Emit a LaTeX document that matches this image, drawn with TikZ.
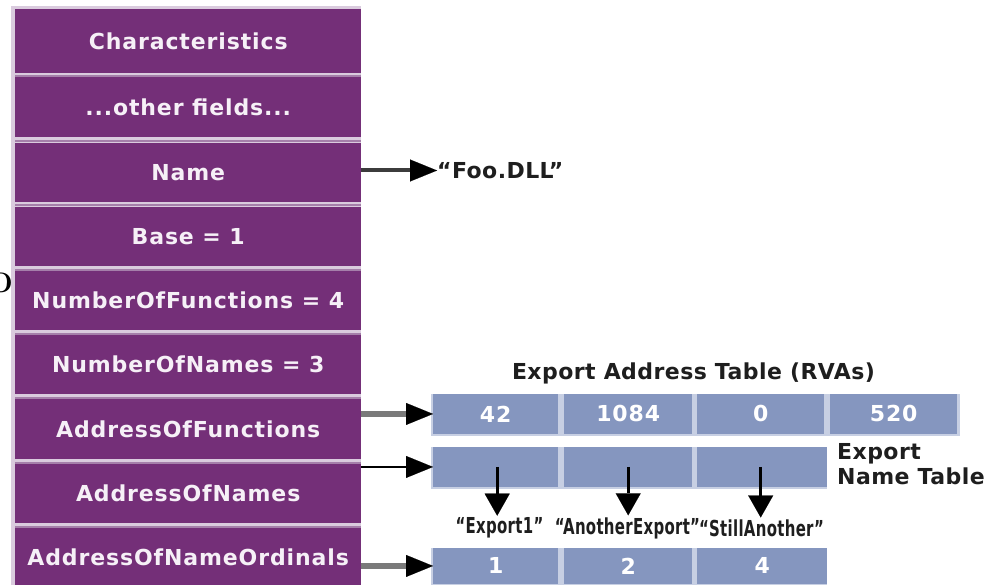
\documentclass[tikz,border=0pt]{standalone}
\usepackage{fontspec}
\usetikzlibrary{arrows.meta}
\newfontfamily\labelsans{DejaVu Sans}[LetterSpace=4]
\newfontfamily\captionsans{DejaVu Sans}[LetterSpace=2]

\definecolor{hdrpurple}{HTML}{742F78}
\definecolor{hdrpale}{HTML}{DACBDE}
\definecolor{hdrmid}{HTML}{A57FAA}
\definecolor{cellblue}{HTML}{8596BF}
\definecolor{cellpale}{HTML}{C7CFE3}
\definecolor{wiregray}{HTML}{7A7A7A}
\definecolor{wiredark}{HTML}{3C3C3C}
\definecolor{inkwhite}{HTML}{F6F0F7}
\definecolor{inkdark}{HTML}{1E1E1E}

\tikzset{
  fieldbox/.style={fill=hdrpurple, draw=none, anchor=north west, inner sep=0pt,
    minimum width=346pt, text=inkwhite,
    font=\labelsans\bfseries\fontsize{22}{26}\selectfont},
  cellbox/.style={fill=cellblue, draw=none, anchor=north west, inner sep=0pt,
    text=white, font=\labelsans\bfseries\fontsize{22}{26}\selectfont},
  caption/.style={inner sep=0pt, text=inkdark,
    font=\captionsans\bfseries\fontsize{22}{25}\selectfont},
  strlabel/.style={inner sep=0pt, outer sep=2pt, text=inkdark,
    font=\captionsans\bfseries\fontsize{22}{24}\selectfont},
  rightarrow/.style={-{Triangle[length=27pt,width=22pt,black,line width=0.1pt]}},
  thickwire/.style={rightarrow, draw=wiregray, line width=6pt},
  thinwire/.style={rightarrow, draw=black, line width=2.5pt},
  namewire/.style={rightarrow, draw=wiredark, line width=4pt},
  downarrow/.style={-{Triangle[length=22pt,width=25pt,black,line width=0.1pt]},
    draw=black, line width=3pt},
}

\begin{document}
\begin{tikzpicture}[x=1pt, y=-1pt]
\useasboundingbox (0,0) rectangle (990,585);

% glyph cut by the left page edge
\begin{scope}
  \clip (0,0) rectangle (990,585);
  \node[anchor=east, inner sep=0pt, font=\fontsize{28}{28}\selectfont\bfseries] (edgeglyph) at (13,283) {O};
\end{scope}

% export directory: pale backing and field rows
\fill[hdrpale] (11,6) rectangle (361,585);
\foreach \t in {77,142.5,206.5,271,335,399,463.5,528}
  \fill[hdrmid] (15,\t-2) rectangle (361,\t);

\node[fieldbox, minimum height=63.5pt] (r1) at (15,9)     {Characteristics};
\node[fieldbox, minimum height=60pt]   (r2) at (15,77)    {...other fields...};
\node[fieldbox, minimum height=59pt]   (r3) at (15,142.5) {Name};
\node[fieldbox, minimum height=59.5pt] (r4) at (15,206.5) {Base = 1};
\node[fieldbox, minimum height=58.5pt] (r5) at (15,271)   {NumberOfFunctions = 4};
\node[fieldbox, minimum height=58.5pt] (r6) at (15,335)   {NumberOfNames = 3};
\node[fieldbox, minimum height=60pt]   (r7) at (15,399)   {AddressOfFunctions};
\node[fieldbox, minimum height=59.5pt] (r8) at (15,463.5) {AddressOfNames};
\node[fieldbox, minimum height=58pt]   (r9) at (15,528)   {AddressOfNameOrdinals};

% DLL name string
\node[caption, anchor=west] (foo) at (437,170.5) {“Foo.DLL”};

% export address table
\node[caption] (eattitle) at (693.5,373) {Export Address Table (RVAs)};
\fill[cellpale] (431,394) rectangle (960,435.5);
\node[cellbox, minimum width=125pt, minimum height=39.5pt] (eat1) at (433,394) {42};
\node[cellbox, minimum width=128pt, minimum height=39.5pt] (eat2) at (564,394) {1084};
\node[cellbox, minimum width=127pt, minimum height=39.5pt] (eat3) at (697,394) {0};
\node[cellbox, minimum width=127pt, minimum height=39.5pt] (eat4) at (830,394) {520};

% export name table
\fill[cellpale] (431,447) rectangle (827,488.5);
\node[cellbox, minimum width=125pt, minimum height=39.5pt] (ent1) at (433,447) {};
\node[cellbox, minimum width=128pt, minimum height=39.5pt] (ent2) at (564,447) {};
\node[cellbox, minimum width=130pt, minimum height=39.5pt] (ent3) at (697,447) {};
\node[caption, anchor=north west, align=left] (enttitle) at (837,443) {Export\\Name Table};

% name strings
\node[strlabel] (s1) at (499.5,528) {\scalebox{0.68}[1]{“Export1”}};
\node[strlabel] (s2) at (627.5,528) {\scalebox{0.68}[1]{“AnotherExport”}};
\node[strlabel] (s3) at (761.5,528) {\scalebox{0.68}[1]{“StillAnother”}};

% ordinal table
\fill[cellpale] (431,548) rectangle (827,586);
\node[cellbox, minimum width=125pt, minimum height=35.5pt] (ord1) at (433,548) {1};
\node[cellbox, minimum width=128pt, minimum height=35.5pt] (ord2) at (564,548) {2};
\node[cellbox, minimum width=130pt, minimum height=35.5pt] (ord3) at (697,548) {4};

% connectors
\draw[namewire]  (r3.east |- foo.west) -- (foo.west);
\draw[thickwire] (r7.east |- eat1.west) -- (eat1.west);
\draw[thinwire]  (r8.east |- ent1.west) -- (ent1.west);
\draw[thickwire] (r9.east |- ord1.west) -- (ord1.west);

\draw[downarrow] ([xshift=1.5pt]ent1.center) -- ([xshift=1.5pt]ent1.center |- s1.north);
\draw[downarrow] (ent2.center) -- (ent2.center |- s2.north);
\draw[downarrow] ([xshift=-1.5pt]ent3.center) -- ([xshift=-1.5pt]ent3.center |- s3.north);
\end{tikzpicture}
\end{document}
